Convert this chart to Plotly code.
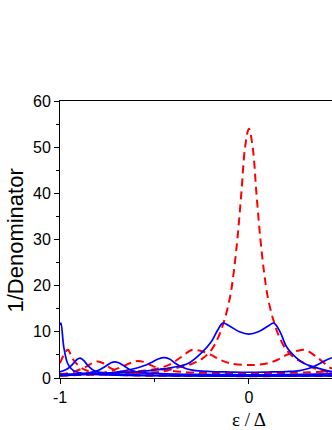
import plotly.graph_objects as go

# blue solid curves (x in eps/Delta)
b1_x = [-1.0, -0.995, -0.98, -0.96, -0.94, -0.92, -0.88, -0.85, -0.7, -0.4, 0.0, 0.44]
b1_y = [11.5, 11.9, 6.7, 3.2, 2.0, 1.4, 1.0, 0.85, 0.6, 0.45, 0.4, 0.45]

b2_x = [-1.0, -0.96, -0.93, -0.91, -0.894, -0.875, -0.85, -0.815, -0.75, -0.6, -0.3, 0.0, 0.44]
b2_y = [1.3, 2.0, 3.1, 4.0, 4.3, 3.8, 2.6, 1.5, 1.0, 0.7, 0.55, 0.5, 0.55]

b3_x = [-1.0, -0.9, -0.85, -0.8, -0.76, -0.73, -0.71, -0.69, -0.66, -0.62, -0.55, -0.4, -0.2, 0.0, 0.2, 0.44]
b3_y = [0.5, 0.8, 1.1, 1.6, 2.5, 3.3, 3.5, 3.3, 2.6, 1.6, 1.1, 0.85, 0.75, 0.7, 0.75, 0.9]

b4_x = [-1.0, -0.8, -0.7, -0.62, -0.56, -0.52, -0.48, -0.45, -0.42, -0.39, -0.355, -0.3, -0.2, -0.1, 0.0,
        0.1, 0.2, 0.27, 0.32, 0.36, 0.4, 0.44]
b4_y = [0.6, 0.9, 1.3, 1.9, 2.6, 3.3, 4.1, 4.4, 4.1, 3.2, 2.4, 1.7, 1.4, 1.3, 1.25,
        1.3, 1.4, 1.6, 2.1, 2.8, 3.7, 4.4]

b5_x = [-1.0, -0.8, -0.6, -0.5, -0.4, -0.32, -0.25, -0.2, -0.165, -0.138, -0.1, -0.05, 0.0,
        0.05, 0.1, 0.132, 0.165, 0.2, 0.25, 0.29, 0.36, 0.44]
b5_y = [0.8, 1.0, 1.3, 1.7, 2.3, 3.2, 5.5, 7.8, 10.4, 11.9, 11.2, 10.0, 9.5,
        10.0, 11.2, 11.9, 10.0, 6.7, 4.4, 3.2, 2.2, 1.3]

# red dashed curves
r1_x = [-1.0, -0.98, -0.958, -0.935, -0.91, -0.87, -0.8, -0.6, -0.3, 0.0, 0.44]
r1_y = [3.2, 5.0, 6.1, 4.3, 3.0, 1.8, 1.0, 0.55, 0.45, 0.4, 0.45]

r2_x = [-1.0, -0.93, -0.87, -0.83, -0.8, -0.77, -0.735, -0.7, -0.66, -0.55, -0.3, 0.0, 0.44]
r2_y = [0.8, 1.3, 2.3, 3.2, 3.6, 3.2, 2.2, 1.6, 1.3, 0.9, 0.7, 0.65, 0.7]

r3_x = [-1.0, -0.85, -0.75, -0.68, -0.63, -0.59, -0.55, -0.52, -0.46, -0.35, -0.2, 0.0, 0.2, 0.44]
r3_y = [0.5, 0.8, 1.3, 2.3, 3.2, 3.7, 3.4, 2.8, 1.9, 1.3, 1.1, 1.0, 1.1, 1.4]

r4_x = [-1.0, -0.8, -0.6, -0.5, -0.42, -0.36, -0.3, -0.25, -0.2, -0.15, -0.1, 0.0,
        0.1, 0.15, 0.2, 0.25, 0.296, 0.36, 0.43, 0.44]
r4_y = [0.8, 1.0, 1.4, 1.9, 2.9, 4.5, 6.1, 5.8, 5.0, 3.9, 3.2, 2.8,
        3.2, 3.9, 5.0, 5.8, 6.1, 4.5, 2.2, 2.1]

r5_x = [-1.0, -0.7, -0.55, -0.46, -0.38, -0.3, -0.25, -0.2, -0.16, -0.13, -0.1, -0.08, -0.06,
        -0.04, -0.02, 0.0, 0.02, 0.04, 0.06, 0.08, 0.1, 0.13, 0.16, 0.2, 0.25, 0.3, 0.34, 0.44]
r5_y = [0.6, 0.8, 1.1, 1.4, 2.2, 3.1, 4.1, 6.0, 9.0, 12.5, 17.5, 23.0, 30.5,
        40.0, 50.0, 54.0, 50.0, 40.0, 30.5, 23.0, 17.5, 12.5, 9.0, 6.0, 4.1, 3.1, 2.2, 1.1]

blue_curves = [(b1_x, b1_y), (b2_x, b2_y), (b3_x, b3_y), (b4_x, b4_y), (b5_x, b5_y)]
red_curves = [(r1_x, r1_y), (r2_x, r2_y), (r3_x, r3_y), (r4_x, r4_y), (r5_x, r5_y)]

fig = go.Figure()
for xs, ys in red_curves:
    fig.add_trace(go.Scatter(x=xs, y=ys, mode='lines', line_shape='spline',
                             line=dict(color='#FF0000', width=2, dash='8px,5px')))
for xs, ys in blue_curves:
    fig.add_trace(go.Scatter(x=xs, y=ys, mode='lines', line_shape='spline',
                             line=dict(color='#0000FF', width=1.7)))

fig.update_layout(
    width=332, height=430,
    margin=dict(l=60, r=0, t=101, b=52),
    plot_bgcolor='white', paper_bgcolor='white',
    showlegend=False,
    font=dict(family='Liberation Sans, Arial', size=16, color='black'),
    xaxis=dict(range=[-1, 0.44], showgrid=False, zeroline=False, automargin=False,
               showline=True, linecolor='black', linewidth=1, mirror=True,
               ticks='outside', ticklen=5, tickcolor='black',
               tickvals=[-1, 0], ticktext=['-1', '0'],
               minor=dict(tickvals=[-0.5], ticks='outside', ticklen=3, tickcolor='black')),
    yaxis=dict(range=[0, 60], showgrid=False, zeroline=False, automargin=False,
               showline=True, linecolor='black', linewidth=1,
               ticks='outside', ticklen=5, tickcolor='black',
               tickvals=[0, 10, 20, 30, 40, 50, 60],
               minor=dict(dtick=5, ticks='outside', ticklen=3, tickcolor='black')),
    annotations=[
        dict(text='1/Denominator', xref='paper', yref='paper', x=-0.162, y=0.496,
             xanchor='center', yanchor='middle', textangle=-90, showarrow=False,
             font=dict(size=22)),
        dict(text='ε / Δ', xref='x', yref='paper', x=0, y=-0.105,
             xanchor='center', yanchor='top', showarrow=False,
             font=dict(family='Liberation Serif, Times New Roman', size=19)),
    ],
)

fig.write_html("out.html", config={'displayModeBar': False},
               post_script="document.body.style.margin='0';")
